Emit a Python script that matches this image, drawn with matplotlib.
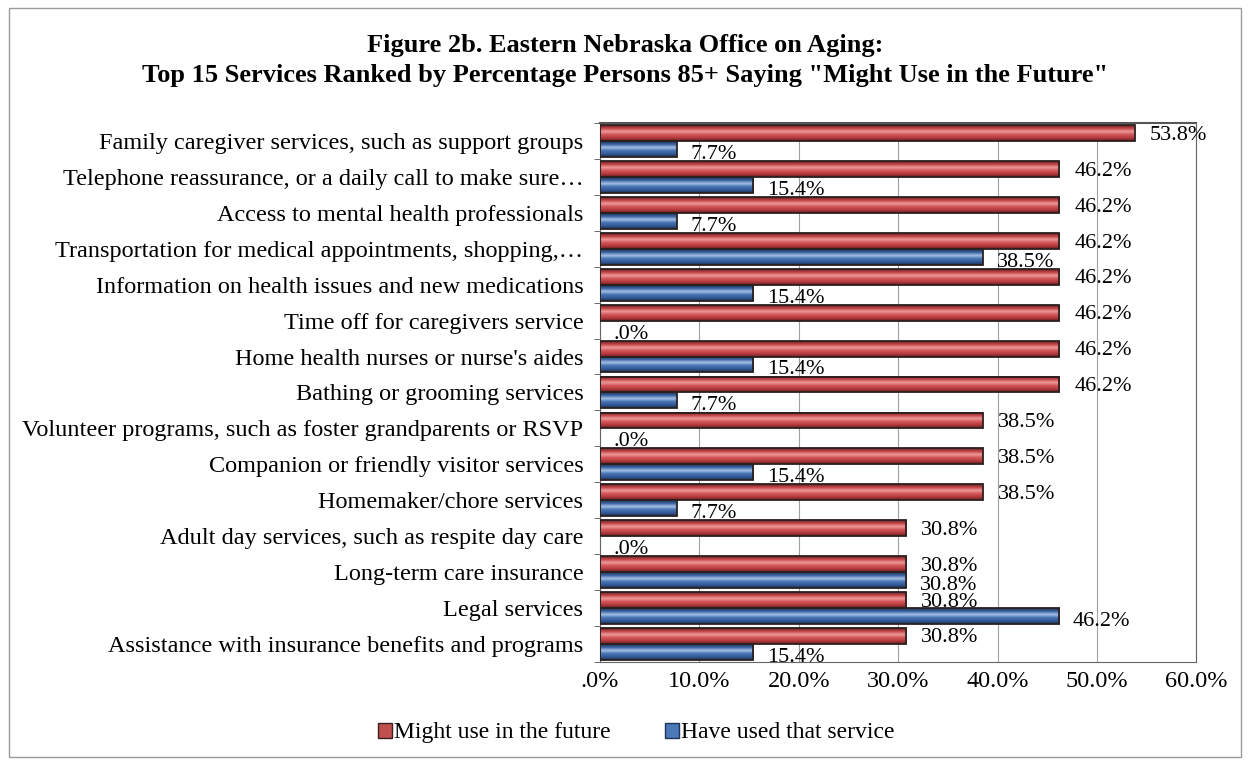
import numpy as np
import matplotlib.pyplot as plt
from matplotlib.patches import Rectangle
from matplotlib.colors import LinearSegmentedColormap

plt.rcParams['font.family'] = ['Liberation Serif', 'DejaVu Serif']

services = [
	'Family caregiver services, such as support groups',
	'Telephone reassurance, or a daily call to make sure\u2026',
	'Access to mental health professionals',
	'Transportation for medical appointments, shopping,\u2026',
	'Information on health issues and new medications',
	'Time off for caregivers service',
	"Home health nurses or nurse's aides",
	'Bathing or grooming services',
	'Volunteer programs, such as foster grandparents or RSVP',
	'Companion or friendly visitor services',
	'Homemaker/chore services',
	'Adult day services, such as respite day care',
	'Long-term care insurance',
	'Legal services',
	'Assistance with insurance benefits and programs',
]
might_use = [53.8, 46.2, 46.2, 46.2, 46.2, 46.2, 46.2, 46.2, 38.5, 38.5, 38.5, 30.8, 30.8, 30.8, 30.8]
have_used = [7.7, 15.4, 7.7, 38.5, 15.4, 0.0, 15.4, 7.7, 0.0, 15.4, 7.7, 0.0, 30.8, 46.2, 15.4]
xticks = [0, 10, 20, 30, 40, 50, 60]

def pct(v):
	s = '%.1f%%' % v
	return s[1:] if s.startswith('0') else s

# cylinder-like shading: dark edge -> light streak -> base -> dark edge
red_cm = LinearSegmentedColormap.from_list('r', ['#6a1f1f', '#c4454a', '#ee9a98', '#d2555a', '#b53a3e', '#6a1f1f'])
blue_cm = LinearSegmentedColormap.from_list('b', ['#1c3054', '#3a64a2', '#a4bfe6', '#4674b4', '#335b97', '#1c3054'])
grad = np.linspace(0, 1, 64).reshape(-1, 1)

def shaded_bar(ax, x, y, h, cmap):
	if x <= 0:
		return
	ax.imshow(grad, cmap=cmap, aspect='auto', extent=[0, x, y + h / 2, y - h / 2],
			  interpolation='bilinear', zorder=2)
	ax.add_patch(Rectangle((0, y - h / 2), x, h, fill=False, edgecolor='#2b2020', lw=1.3, zorder=3))

fig = plt.figure(figsize=(12.5, 7.65), dpi=100)
fig.patches.append(Rectangle((0.007, 0.01), 0.986, 0.979, transform=fig.transFigure,
							 fill=False, edgecolor='#9a9a9a', lw=1.0))
ax = fig.add_axes([0.48, 0.135, 0.477, 0.704])

n = len(services)
y = np.arange(n)
h = 0.44
for i in range(n):
	yr = i - h / 2
	yb = i + h / 2
	shaded_bar(ax, might_use[i], yr, h, red_cm)
	shaded_bar(ax, have_used[i], yb, h, blue_cm)
	ax.annotate(pct(might_use[i]), (might_use[i], yr), xytext=(11, -1.5), textcoords='offset points',
				va='center', ha='left', fontsize=16)
	ax.annotate(pct(have_used[i]), (have_used[i], yb), xytext=(10, -4), textcoords='offset points',
				va='center', ha='left', fontsize=16)

ax.set_xlim(0, 60)
ax.set_ylim(n - 0.5, -0.5)
ax.set_xticks(xticks)
ax.set_xticklabels([pct(t) for t in xticks], fontsize=17.5)
ax.set_yticks(y)
ax.set_yticklabels(services, fontsize=17.5)
ax.tick_params(axis='y', length=0, pad=12)
ax.tick_params(axis='x', length=0, pad=7)
ax.set_yticks(np.arange(-0.5, n, 1), minor=True)
ax.tick_params(axis='y', which='minor', length=4, color='#555555')
ax.set_xticks(xticks, minor=True)
ax.tick_params(axis='x', which='minor', length=4, color='#555555')
ax.grid(axis='x', color='#a0a0a0', lw=0.8, zorder=0)
ax.set_axisbelow(True)
for side in ['left', 'bottom', 'right']:
	ax.spines[side].set_color('#666666')
ax.spines['top'].set_color('#555555')
ax.spines['top'].set_linewidth(1.5)

fig.text(0.5, 0.94, 'Figure 2b. Eastern Nebraska Office on Aging:', ha='center', va='center',
		 fontsize=19, fontweight='bold')
fig.text(0.5, 0.901, 'Top 15 Services Ranked by Percentage Persons 85+ Saying "Might Use in the Future"',
		 ha='center', va='center', fontsize=19, fontweight='bold')

handles = [Rectangle((0, 0), 1, 1, facecolor='#c0504d', edgecolor='#3a2020'),
		   Rectangle((0, 0), 1, 1, facecolor='#4a78b8', edgecolor='#1f3458')]
fig.legend(handles, ['Might use in the future', 'Have used that service'], loc='center',
		   bbox_to_anchor=(0.509, 0.042), ncol=2, frameon=False, fontsize=17,
		   handlelength=0.6, handleheight=0.6, handletextpad=0.1, columnspacing=2.3)

fig.savefig('out.png', dpi=100)
